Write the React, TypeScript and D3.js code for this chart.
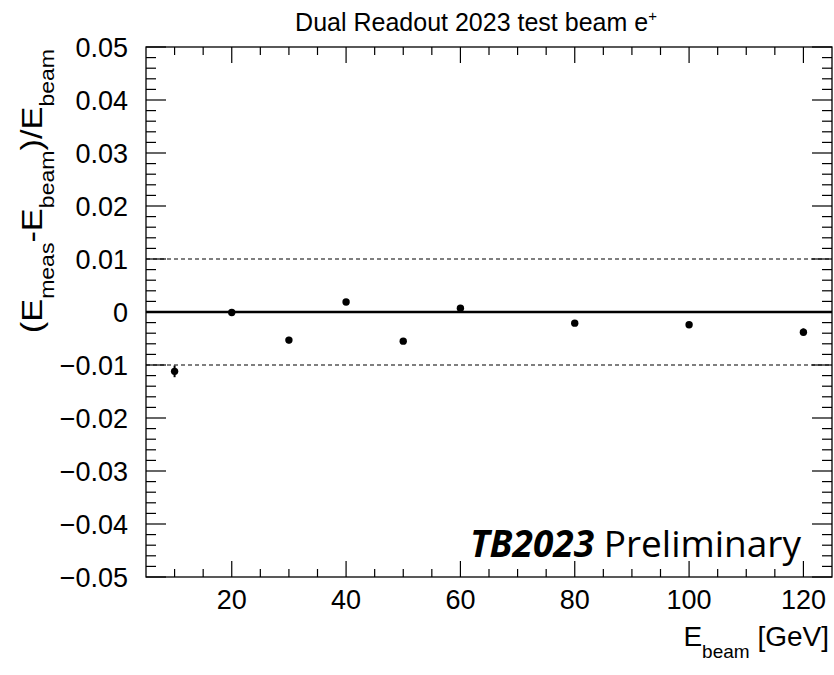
import React from "react";
import * as d3 from "d3";

const energies = [10, 20, 30, 40, 50, 60, 80, 100, 120];
const residuals = [-0.0112, -0.0001, -0.0053, 0.0019, -0.0055, 0.0007, -0.0021, -0.0024, -0.0038];
const errors = [0.0011, 0.0003, 0.0006, 0.0004, 0.0003, 0.0004, 0.0003, 0.0003, 0.0007];
const xTicks = [20, 40, 60, 80, 100, 120];
const yTicks = [-0.05, -0.04, -0.03, -0.02, -0.01, 0, 0.01, 0.02, 0.03, 0.04, 0.05];
const refLines = [-0.01, 0.01];

const W = 834, H = 675;
const L = 146, R = 832, T = 47, B = 577;

export default function App() {
  const x = d3.scaleLinear().domain([5, 125]).range([L, R]);
  const y = d3.scaleLinear().domain([-0.05, 0.05]).range([B, T]);
  const xMinor = d3.range(10, 125, 5).filter((v) => v % 20 !== 0);
  const yMinor = d3.range(-50, 51, 2).filter((v) => v % 10 !== 0).map((v) => v / 1000);
  const fmtY = (v: number) => (v === 0 ? "0" : (v < 0 ? "\u2212" : "") + Math.abs(v).toFixed(2));
  const font = "'Liberation Sans', Arial, Helvetica, sans-serif";
  return (
    <svg width={W} height={H} style={{ position: "absolute", left: 0, top: 0, background: "#fff" }} fontFamily={font}>
      <rect x={0} y={0} width={W} height={H} fill="#fff" />
      {/* title */}
      <text x={476} y={31} textAnchor="middle" fontSize={25} fill="#000">
        Dual Readout 2023 test beam e<tspan dy={-10} fontSize={15}>+</tspan>
      </text>
      {/* reference lines */}
      {refLines.map((v) => (
        <line key={v} x1={L} x2={R} y1={y(v)} y2={y(v)} stroke="#000" strokeWidth={1.2} strokeDasharray="4,3" />
      ))}
      <line x1={L} x2={R} y1={y(0)} y2={y(0)} stroke="#000" strokeWidth={2.6} />
      {/* frame */}
      <rect x={L} y={T} width={R - L} height={B - T} fill="none" stroke="#000" strokeWidth={1.3} />
      {/* x ticks */}
      {xTicks.map((v) => (
        <g key={"xt" + v}>
          <line x1={x(v)} x2={x(v)} y1={B} y2={B - 16} stroke="#000" strokeWidth={1.2} />
          <line x1={x(v)} x2={x(v)} y1={T} y2={T + 16} stroke="#000" strokeWidth={1.2} />
          <text x={x(v)} y={609} textAnchor="middle" fontSize={27}>{v}</text>
        </g>
      ))}
      {xMinor.map((v) => (
        <g key={"xm" + v}>
          <line x1={x(v)} x2={x(v)} y1={B} y2={B - 8} stroke="#000" strokeWidth={1.2} />
          <line x1={x(v)} x2={x(v)} y1={T} y2={T + 8} stroke="#000" strokeWidth={1.2} />
        </g>
      ))}
      {/* y ticks */}
      {yTicks.map((v) => (
        <g key={"yt" + v}>
          <line x1={L} x2={L + 20} y1={y(v)} y2={y(v)} stroke="#000" strokeWidth={1.2} />
          <line x1={R} x2={R - 20} y1={y(v)} y2={y(v)} stroke="#000" strokeWidth={1.2} />
          <text x={128} y={y(v) + 10} textAnchor="end" fontSize={27}>{fmtY(v)}</text>
        </g>
      ))}
      {yMinor.map((v) => (
        <g key={"ym" + v}>
          <line x1={L} x2={L + 10} y1={y(v)} y2={y(v)} stroke="#000" strokeWidth={1.2} />
          <line x1={R} x2={R - 10} y1={y(v)} y2={y(v)} stroke="#000" strokeWidth={1.2} />
        </g>
      ))}
      {/* data */}
      {energies.map((e, i) => (
        <g key={"p" + e}>
          <line x1={x(e)} x2={x(e)} y1={y(residuals[i] - errors[i])} y2={y(residuals[i] + errors[i])} stroke="#000" strokeWidth={2} />
          <circle cx={x(e)} cy={y(residuals[i])} r={3.7} fill="#000" />
        </g>
      ))}
      {/* label */}
      <text x={801} y={557} textAnchor="end" fontSize={37} fontFamily="'Open Sans', 'Noto Sans', sans-serif" fill="#000">
        <tspan fontWeight="bold" fontStyle="italic">TB2023</tspan> Preliminary
      </text>
      {/* x title */}
      <text x={829} y={646} textAnchor="end" fontSize={28}>
        E<tspan dy={12} fontSize={19}>beam</tspan><tspan dy={-12}> [GeV]</tspan>
      </text>
      {/* y title */}
      <text transform={`translate(42,${T + 2}) rotate(-90) scale(1.15,1)`} textAnchor="end" fontSize={30}>
        (E<tspan dy={12} fontSize={20}>meas</tspan><tspan dy={-12}>-E</tspan><tspan dy={12} fontSize={20}>beam</tspan><tspan dy={-12}>)/E</tspan><tspan dy={12} fontSize={20}>beam</tspan>
      </text>
    </svg>
  );
}
